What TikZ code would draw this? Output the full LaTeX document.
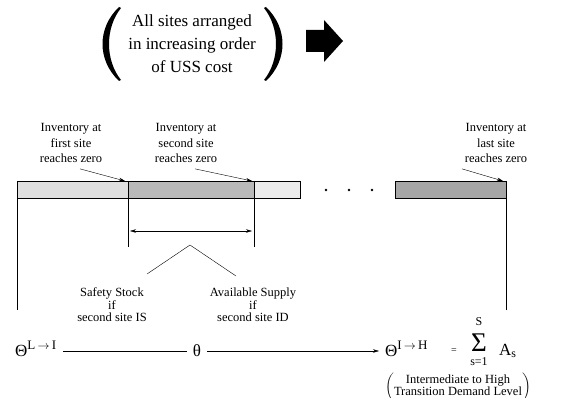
\documentclass[tikz,border=0pt]{standalone}
\usepackage{amsmath}
\usepackage{fontspec}
\setmainfont{Liberation Serif}
\usetikzlibrary{arrows.meta}

\begin{document}
\begin{tikzpicture}[x=1pt,y=-1pt]
            \tikzstyle{every node}+=[inner sep=0pt]
            \tikzstyle{lbl}=[font=\fontsize{12.5}{15.5}\selectfont, align=center]
            \tikzstyle{tight}=[font=\fontsize{12.5}{12.5}\selectfont, align=center]
            \tikzstyle{level}=[font=\fontsize{17}{18}\selectfont]
            \tikzstyle{lim}=[font=\fontsize{12}{12}\selectfont]
            \tikzstyle{ptr}=[-{Stealth[length=6pt,width=3.5pt]}]
            \useasboundingbox (0,0) rectangle (583,398);
            % heading and block arrow
            \node [font=\fontsize{17}{23}\selectfont, align=center] (head) at (192,44) {All sites arranged\\in increasing order\\of USS cost};
            \fill [black] (119,7) .. controls (97,28) and (97,60) .. (119,81) -- (121,80) .. controls (105,60) and (105,28) .. (121,8) -- cycle;
            \fill [black] (266,7) .. controls (288,28) and (288,60) .. (266,81) -- (264,80) .. controls (280,60) and (280,28) .. (264,8) -- cycle;
            \fill [black] (306,30) -- (324,30) -- (324,20) -- (343,41) -- (324,62) -- (324,52) -- (306,52) -- cycle;
            % bars
            \coordinate (b0) at (17,181);
            \coordinate (b1) at (128,181);
            \coordinate (b2) at (254,181);
            \coordinate (b3) at (300,181);
            \coordinate (c0) at (395,181);
            \coordinate (c1) at (506,181);
            \draw [black, fill=gray!25] (b0) rectangle (128,198);
            \draw [black, fill=gray!55] (b1) rectangle (254,198);
            \draw [black, fill=gray!15] (b2) rectangle (300,198);
            \draw [black, fill=gray!70] (c0) rectangle (506,198);
            \foreach \x in {326,349,372}
                \fill [black] (\x,190) circle (1.4);
            % vertical lines
            \coordinate (v0) at (17,310);
            \coordinate (v1) at (128,247);
            \coordinate (v2) at (254,247);
            \coordinate (v3) at (506,310);
            \draw [black] (17,198) -- (v0);
            \draw [black] (b1) -- (v1);
            \draw [black] (b2) -- (v2);
            \draw [black] (506,198) -- (v3);
            % labels at top
            \node [lbl] (first) at (71,143) {Inventory at\\first site\\reaches zero};
            \node [lbl] (second) at (186,143) {Inventory at\\second site\\reaches zero};
            \node [lbl] (last) at (496,143) {Inventory at\\last site\\reaches zero};
            \draw [ptr] ([xshift=9pt,yshift=-6pt]first.south) -- ([xshift=-3pt]b1);
            \draw [ptr] ([xshift=9pt,yshift=-6pt]second.south) -- ([xshift=-2pt]b2);
            \draw [ptr] ([xshift=-34pt,yshift=-6pt]last.south) -- ([xshift=-3pt]c1);
            % span between sites
            \draw [{Stealth[length=6pt,width=3.5pt]}-{Stealth[length=6pt,width=3.5pt]}] (130,231) -- (252,231);
            \coordinate (apex) at (190,245);
            \coordinate (legl) at (147,274);
            \coordinate (legr) at (236,276);
            \draw [black] (legl) -- (apex) -- (legr);
            \node [tight] (safety) at (112,305) {Safety Stock\\if\\second site IS};
            \node [tight] (avail) at (253,305) {Available Supply\\if\\second site ID};
            % demand levels
            \node [level, anchor=base west] (thl) at (15,356) {Θ\textsuperscript{\fontsize{13}{13}\selectfont L\,$\rightarrow$\,I}};
            \node [level, anchor=base] (theta) at (197,356) {θ};
            \node [level, anchor=base west] (thh) at (385,356) {Θ\textsuperscript{\fontsize{13}{13}\selectfont I\,$\rightarrow$\,H}};
            \node [font=\fontsize{10}{10}\selectfont] (eq) at (454,351) {=};
            \node [font=\fontsize{27}{27}\selectfont] (sig) at (479,343) {Σ};
            \node [lim] (top) at (479,322) {S};
            \node [lim] (bot) at (479,362) {s=1};
            \node [level, anchor=base west] (asum) at (499,355) {A\textsubscript{s}};
            \draw [black] ([xshift=6pt,yshift=5pt]thl.base east) -- ([xshift=-6pt,yshift=5pt]theta.base west);
            \draw [ptr] ([xshift=6pt,yshift=5pt]theta.base east) -- ([xshift=-6pt,yshift=5pt]thh.base west);
            \node [font=\fontsize{12.5}{12.5}\selectfont] (trans) at (458,387) {$\left(\begin{tabular}{@{}c@{}}Intermediate to High\\[-1pt]Transition Demand Level\end{tabular}\right)$};
        \end{tikzpicture}
\end{document}
